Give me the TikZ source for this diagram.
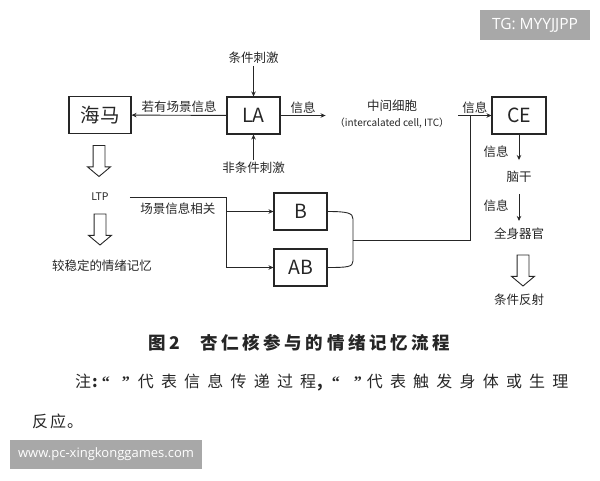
\documentclass[tikz,border=0pt]{standalone}
\usepackage{fontspec}
\setmainfont{Noto Sans CJK SC}
\newfontfamily\wmfont{Open Sans}
\newfontfamily\notefont[LetterSpace=45]{Noto Sans CJK SC}
\newfontfamily\capfont[LetterSpace=21]{Noto Sans CJK SC}
\newfontfamily\quotefont{Liberation Serif}
\usetikzlibrary{positioning}
\usetikzlibrary{arrows.meta,shapes}
\usetikzlibrary{shapes.arrows}
\usetikzlibrary{calc}
\definecolor{ink}{HTML}{262626}
\definecolor{wmgrey}{HTML}{A8A8A8}
\tikzstyle{block}=[rectangle,draw=ink,line width=1.1pt,minimum height=37pt,inner sep=0pt,text=ink,font=\fontsize{19.5}{20}\selectfont]
\tikzstyle{tag}=[inner sep=2pt,text=ink,font=\fontsize{12.5}{16}\selectfont]
\tikzstyle{edge} = [draw=ink,line width=0.9pt,-{Stealth[length=5pt,width=4.5pt]}]
\tikzstyle{line} = [draw=ink,line width=0.9pt]
\tikzstyle{weight} = [inner sep=2pt,text=ink,font=\fontsize{12.5}{14}\selectfont]
\tikzstyle{hollow}=[single arrow,draw=ink,line width=0.9pt,rotate=-90,inner sep=5.5pt,single arrow head extend=5.5pt,single arrow tip angle=100,minimum height=31pt]
\tikzstyle{stamp}=[fill=wmgrey,text=white,inner sep=0pt]

\begin{document}
\begin{tikzpicture}[x=1pt, y=-1pt]

  \useasboundingbox (0,0) rectangle (600,480);

   \foreach \x/\y/\w/\name/\label in { 100/115/62/hippo/海马, 253.5/115.5/53/LA/LA, 519/115.5/54/CE/CE, 300.5/211.5/53/B/B, 300.5/267.5/53/AB/AB}
          \node[block, minimum width=\w pt] (\name) at (\x, \y) {\label};

   \foreach \x/\y/\name/\label in { 253.5/58/cond/条件刺激, 253.5/168/uncond/非条件刺激, 102/266/stable/较稳定的情绪记忆, 519/177/stem/脑干, 519/234/organ/全身器官, 519/300/reflex/条件反射}
          \node[tag] (\name) at (\x, \y) {\label};

  \node[tag, font=\fontsize{10.5}{12}\selectfont] (LTP) at (100, 197) {LTP};
  \node[tag, align=center, inner xsep=9pt] (ITC) at (392, 114) {中间细胞\\{\fontsize{10}{16}\selectfont （intercalated cell, ITC）}};

  % hollow arrows
  \foreach \x/\y/\name in { 99/158.5/down1, 100/227/down2, 523/268/down3}
          \node[hollow] (\name) at (\x, \y) {};

  \draw[edge] (LA) -- node[weight, above] {若有场景信息} (hippo);
  \draw[edge] (cond) -- (LA);
  \draw[edge] (uncond) -- (LA);
  \draw[edge] (LA) -- node[weight, above] {信息} (LA -| ITC.west);
  \draw[edge] (CE -| ITC.east) -- node[weight, above] {信息} (CE);

  \draw[edge, shorten >=9pt] (CE) -- node[weight, left=8pt] {信息} (stem);
  \draw[edge, shorten <=9pt, shorten >=5pt] (stem) -- node[weight, left=8pt] {信息} (organ);

  \coordinate (fork) at (226, 197);
  \draw[edge] ([xshift=19pt]LTP.east) -- node[weight, below=3pt] {场景信息相关} (fork) |- (AB);
  \draw[edge] (fork |- B) -- (B);

  \coordinate (join) at (353, 240);
  \coordinate (merge) at (470, 115.5);
  \draw[line] (B.east) .. controls +(20,0) and +(0,-6) .. (353, 219) -- (353, 261) .. controls +(0,6) and +(20,0) .. (AB.east);
  \draw[line] (join) -| (merge);

  % caption and note
  \node[anchor=base west, inner sep=0pt, text=ink, font=\capfont\bfseries\fontsize{17.5}{20}\selectfont] (caption) at (148, 349) {图2\hspace{20pt}杏仁核参与的情绪记忆流程};
  \node[anchor=base west, inner sep=0pt, text=ink, font=\notefont\fontsize{16}{16}\selectfont] (note) at (75, 387) {注\hspace{1pt}{\normalfont\bfseries :}\hspace{4pt}{\quotefont\bfseries “\hspace{12pt}”}\hspace{8pt}代表信息传递过程\hspace{1pt}{\normalfont\bfseries ,}\hspace{9pt}{\quotefont\bfseries “\hspace{14pt}”}\hspace{5pt}代表触发身体或生理};
  \node[anchor=base west, inner sep=0pt, text=ink, font=\fontsize{16}{16}\selectfont] (note2) at (32, 427) {反\hspace{2pt}应\hspace{1pt}。};

  \node[stamp, minimum width=110pt, minimum height=30pt, font=\wmfont\fontsize{15.5}{16}\selectfont] (tg) at (535, 25) {TG: MYYJJPP};
  \node[stamp, minimum width=192pt, minimum height=29pt, font=\wmfont\fontsize{13}{14}\selectfont] (site) at (106, 454.5) {www.pc-xingkonggames.com};

   \end{tikzpicture}
\end{document}
